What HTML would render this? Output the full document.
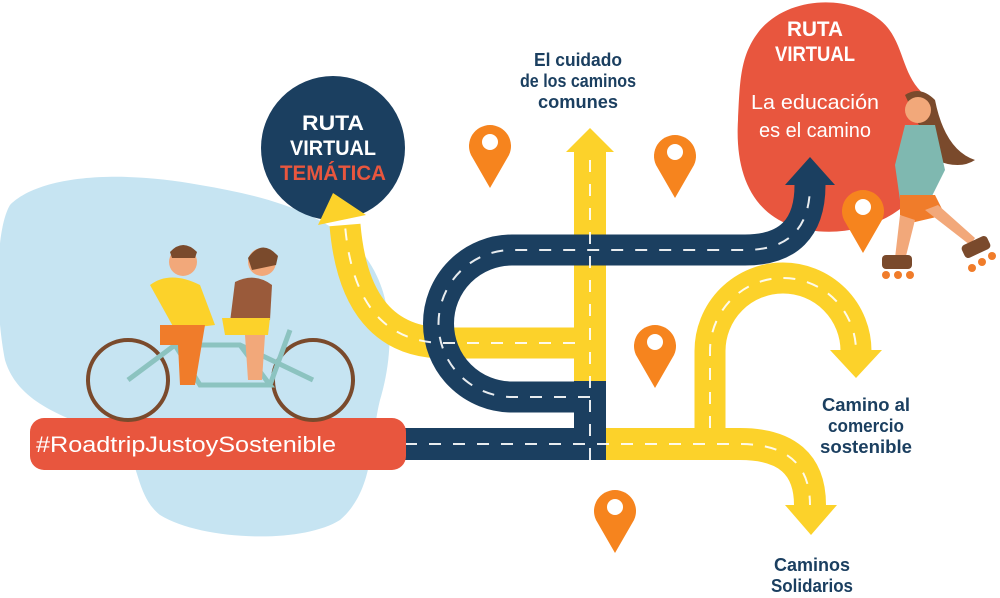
<!DOCTYPE html>
<html><head><meta charset="utf-8"><style>
html,body{margin:0;padding:0;background:#fff;}
svg{display:block}
text{font-family:"Liberation Sans",sans-serif;}
.b{font-weight:bold}
</style></head><body>
<svg width="1000" height="598" viewBox="0 0 1000 598" xmlns="http://www.w3.org/2000/svg">
<!-- blue blob -->
<path d="M10,205 C40,175 120,170 200,185 C260,195 320,210 360,250 C395,290 395,350 380,400 C370,440 375,490 340,520 C300,545 200,540 160,515 C135,495 140,460 120,440 C80,420 20,410 5,360 C-5,310 -5,230 10,205 Z" fill="#c6e4f2"/>
<!-- red blob -->
<path d="M760,30 C790,-5 850,-5 880,20 C905,40 900,75 925,95 C950,115 940,165 915,195 C885,230 830,240 790,225 C750,210 735,170 738,120 C740,80 740,55 760,30 Z" fill="#e8563e"/>
<!-- navy circle -->
<circle cx="333" cy="148" r="72" fill="#1b3f60"/>
<g class="b" font-size="21" text-anchor="middle">
<text x="333" y="130" fill="#fff" textLength="62" lengthAdjust="spacingAndGlyphs">RUTA</text>
<text x="333" y="155" fill="#fff" textLength="86" lengthAdjust="spacingAndGlyphs">VIRTUAL</text>
<text x="333" y="180" fill="#e8563e" textLength="106" lengthAdjust="spacingAndGlyphs">TEMÁTICA</text>
</g>
<g fill="#fff" font-size="21" text-anchor="middle">
<text class="b" x="815" y="36" textLength="56" lengthAdjust="spacingAndGlyphs">RUTA</text>
<text class="b" x="815" y="61" textLength="80" lengthAdjust="spacingAndGlyphs">VIRTUAL</text>
<text x="815" y="109" font-size="20" textLength="128" lengthAdjust="spacingAndGlyphs">La educación</text>
<text x="815" y="137" font-size="20" textLength="112" lengthAdjust="spacingAndGlyphs">es el camino</text>
</g>
<!-- roads -->
<g fill="none" stroke-linecap="butt">
<path d="M590,428 L590,150" stroke="#fcd22a" stroke-width="32"/>
<path d="M575,343 L445,343 Q355,343 345,225" stroke="#fcd22a" stroke-width="31"/>
<path d="M606,444 L740,444 Q810,444 810,505" stroke="#fcd22a" stroke-width="32"/>
<path d="M710,428 L710,351 A73,73 0 0 1 856,351 L856,352" stroke="#fcd22a" stroke-width="31"/>
<path d="M405,444 L606,444" stroke="#1b3f60" stroke-width="32"/>
<path d="M590,428 L590,397 L512,397 A73,73 0 0 1 512,250 L745,250 Q810,250 810,185" stroke="#1b3f60" stroke-width="31"/>
<rect x="574" y="381" width="32" height="63" fill="#1b3f60" stroke="none"/>
<g stroke="#fff" stroke-width="2" stroke-dasharray="12,12" opacity="0.9">
<path d="M590,460 L590,150"/>
<path d="M575,343 L445,343 Q355,343 345,225"/>
<path d="M405,444 L740,444 Q810,444 810,505"/>
<path d="M710,428 L710,351 A73,73 0 0 1 856,351"/>
<path d="M590,397 L512,397 A73,73 0 0 1 512,250 L745,250 Q810,250 810,185"/>
</g>
</g>
<!-- arrowheads -->
<polygon points="566,152 614,152 590,128" fill="#fcd22a"/>
<polygon points="785,185 835,185 810,157" fill="#1b3f60"/>
<polygon points="318,225 366,215 333,193" fill="#fcd22a"/>
<polygon points="830,350 882,350 856,378" fill="#fcd22a"/>
<polygon points="785,505 837,505 811,535" fill="#fcd22a"/>
<!-- pins -->
<g fill="#f6841e">
<g transform="translate(490,150)"><path d="M0,38 L-19,5 A21,21 0 1 1 19,5 Z"/><circle cx="0" cy="-8" r="8" fill="#fff"/></g>
<g transform="translate(675,160)"><path d="M0,38 L-19,5 A21,21 0 1 1 19,5 Z"/><circle cx="0" cy="-8" r="8" fill="#fff"/></g>
<g transform="translate(655,350)"><path d="M0,38 L-19,5 A21,21 0 1 1 19,5 Z"/><circle cx="0" cy="-8" r="8" fill="#fff"/></g>
<g transform="translate(863,215)"><path d="M0,38 L-19,5 A21,21 0 1 1 19,5 Z"/><circle cx="0" cy="-8" r="8" fill="#fff"/></g>
<g transform="translate(615,515)"><path d="M0,38 L-19,5 A21,21 0 1 1 19,5 Z"/><circle cx="0" cy="-8" r="8" fill="#fff"/></g>
</g>
<!-- labels -->
<g class="b" fill="#1b3f60" font-size="18" text-anchor="middle">
<text x="578" y="66" textLength="88" lengthAdjust="spacingAndGlyphs">El cuidado</text>
<text x="578" y="87" textLength="116" lengthAdjust="spacingAndGlyphs">de los caminos</text>
<text x="578" y="108" textLength="80" lengthAdjust="spacingAndGlyphs">comunes</text>
<text x="866" y="411" textLength="88" lengthAdjust="spacingAndGlyphs">Camino al</text>
<text x="866" y="432" textLength="76" lengthAdjust="spacingAndGlyphs">comercio</text>
<text x="866" y="453" textLength="92" lengthAdjust="spacingAndGlyphs">sostenible</text>
<text x="812" y="571" textLength="76" lengthAdjust="spacingAndGlyphs">Caminos</text>
<text x="812" y="592" textLength="82" lengthAdjust="spacingAndGlyphs">Solidarios</text>
</g>
<!-- banner -->
<rect x="30" y="418" width="376" height="52" rx="14" fill="#e8563e"/>
<text x="186" y="452" font-size="22" fill="#fff" text-anchor="middle" textLength="300" lengthAdjust="spacingAndGlyphs">#RoadtripJustoySostenible</text>
<!-- tandem bike -->
<g fill="none" stroke="#7a4a2c" stroke-width="4">
<circle cx="128" cy="380" r="40"/>
<circle cx="313" cy="380" r="40"/>
</g>
<g stroke="#8cc3c0" stroke-width="5" fill="none">
<path d="M128,380 L175,345 L240,345 L313,380 M175,345 L200,385 L270,385 L240,345 M270,385 L290,330"/>
</g>
<circle cx="183" cy="262" r="14" fill="#f2a87a"/>
<path d="M170,252 Q183,238 197,252 L195,258 L172,258 Z" fill="#7a4a2c"/>
<path d="M150,285 Q170,270 200,285 L215,325 L175,330 Z" fill="#fcd22a"/>
<path d="M160,325 L205,325 L195,385 L180,385 L178,345 L160,345 Z" fill="#f07c2a"/>
<circle cx="262" cy="262" r="14" fill="#f2a87a"/>
<path d="M248,258 Q262,238 278,256 L276,265 L252,270 Z" fill="#7a4a2c"/>
<path d="M235,282 Q255,272 272,285 L270,320 L230,322 Z" fill="#9a5a3a"/>
<path d="M222,318 L270,318 L268,335 L225,335 Z" fill="#fcd22a"/>
<path d="M245,335 L265,335 L262,380 L248,380 Z" fill="#f2a87a"/>
<!-- skater -->
<g>
<path d="M905,95 Q920,85 935,100 Q945,150 975,160 Q960,170 935,160 Z" fill="#7a4a2c"/>
<circle cx="918" cy="110" r="13" fill="#f2a87a"/>
<path d="M905,125 L935,125 L945,170 L930,200 L900,200 L895,165 Z" fill="#7fb8b0"/>
<path d="M900,195 L935,195 L945,215 L915,222 L900,215 Z" fill="#f07c2a"/>
<path d="M900,215 L895,258 L905,260 L915,220 Z M925,210 L970,245 L975,238 L938,205 Z" fill="#f2a87a"/>
<rect x="882" y="255" width="30" height="14" rx="4" fill="#7a4a2c"/>
<rect x="962" y="240" width="28" height="14" rx="4" fill="#7a4a2c" transform="rotate(-25 976 247)"/>
<g fill="#f07c2a"><circle cx="886" cy="275" r="4"/><circle cx="898" cy="275" r="4"/><circle cx="910" cy="275" r="4"/><circle cx="972" cy="268" r="4"/><circle cx="982" cy="262" r="4"/><circle cx="992" cy="256" r="4"/></g>
</g>
</svg>
</body></html>
